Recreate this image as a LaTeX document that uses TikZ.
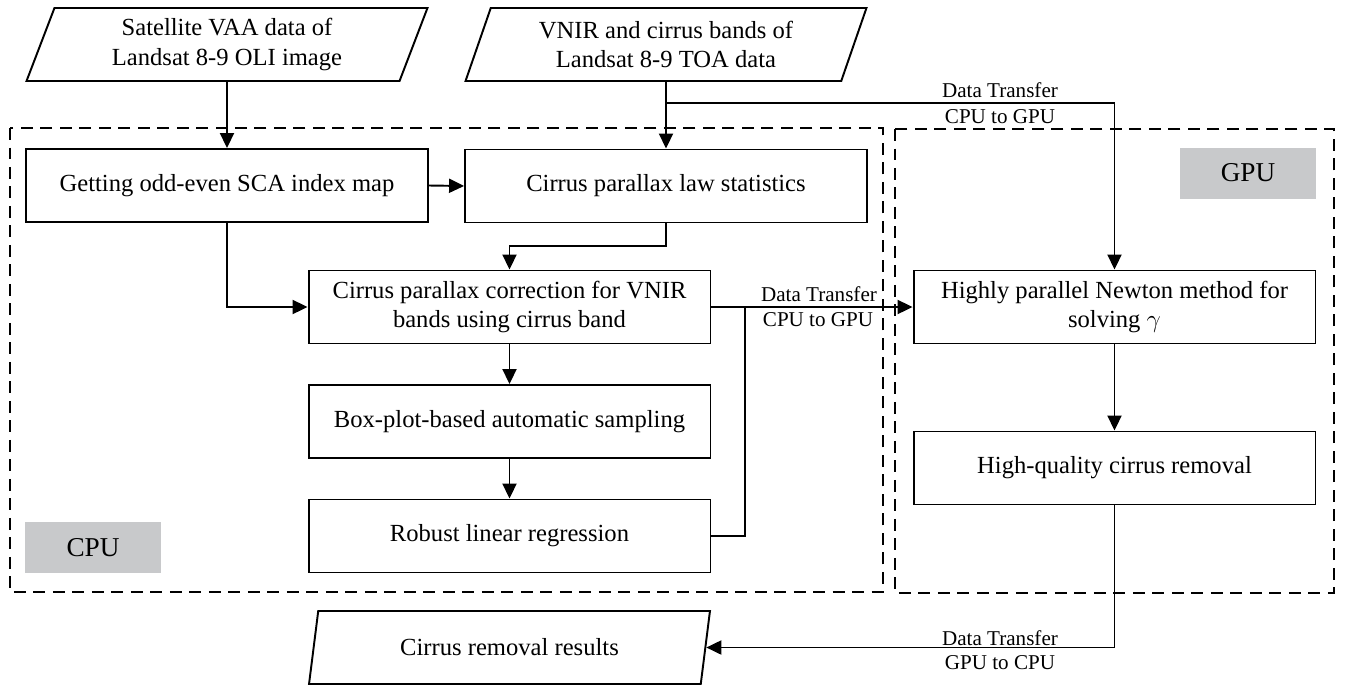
\documentclass[tikz,border=0pt]{standalone}
\usepackage{fontspec}
\setmainfont{Liberation Serif}
\usepackage{tikz}
\usepackage{xcolor}
\usetikzlibrary{positioning,shapes.geometric,arrows.meta}
\definecolor{labelgray}{RGB}{200,201,203}

\begin{document}
\begin{tikzpicture}[x=0.02cm,y=-0.02cm,line width=1.1pt,>={Triangle[length=3mm,width=2.8mm]}]
\useasboundingbox (0,0) rectangle (1346,687);
\tikzstyle{every node}=[font=\fontsize{14}{17}\selectfont,align=center,inner sep=0pt];
\tikzstyle{proc}=[draw,rectangle,minimum width=8.04cm,minimum height=1.46cm];
\tikzstyle{data}=[draw,trapezium,trapezium left angle=62,trapezium right angle=118,trapezium stretches body,minimum width=8.02cm,minimum height=1.46cm];
\tikzstyle{unit}=[fill=labelgray,minimum width=2.72cm,minimum height=1.02cm,font=\fontsize{15.5}{17}\selectfont];
\tikzstyle{frame}=[dash pattern=on 2.4mm off 1.5mm];
\tikzstyle{transfer}=[font=\fontsize{12}{12}\selectfont];

% CPU / GPU frames
\draw[frame] (10,128) rectangle (883,592);
\draw[frame] (895,129) rectangle (1334,593);
\node[unit] (cpu) at (93,547.5) {CPU};
\node[unit] (gpu) at (1248,173) {GPU};

\node[data] (vaa) at (227,44.5) {Satellite VAA data of\\Landsat 8-9 OLI image};
\node[data] (toa) at (666,44.5) {VNIR and cirrus bands of\\Landsat 8-9 TOA data};
\node[proc] (sca) at (227,185.5) {Getting odd-even SCA index map};
\node[proc] (law) at (666,186) {Cirrus parallax law statistics};
\node[proc] (corr) at (509.5,307) {Cirrus parallax correction for VNIR\\bands using cirrus band};
\node[proc] (boxplot) at (509.5,421.5) {Box-plot-based automatic sampling};
\node[proc] (reg) at (509.5,536) {Robust linear regression};
\node[proc] (newton) at (1114.5,307) {Highly parallel Newton method for\\solving $\gamma$};
\node[proc] (hq) at (1114.5,468) {High-quality cirrus removal};
\node[data] (out) at (509.5,647.5) {Cirrus removal results};

\node[transfer] (up1) at (1000,90) {Data Transfer};
\node[transfer] (dn1) at (1000,117) {CPU to GPU};
\node[transfer] (up2) at (819,294) {Data Transfer};
\node[transfer] (dn2) at (818,320) {CPU to GPU};
\node[transfer] (up3) at (1000,638) {Data Transfer};
\node[transfer] (dn3) at (1000,663) {GPU to CPU};

\coordinate (split) at (666,103);
\coordinate (join) at (745,307);

\draw[->] (vaa.south) -- (sca.north);
\draw[->] (toa.south) -- (law.north);
\draw[->] (split) -| (newton.north);
\draw[->] (sca.east) -- (law.west);
\draw[->] (sca.south) |- (corr.west);
\draw[->] (law.south) -- ++(0,23) -| (corr.north);
\draw[->] (corr.east) -- (newton.west);
\draw (reg.east) -| (join);
\draw[->] (corr.south) -- (boxplot.north);
\draw[->] (boxplot.south) -- (reg.north);
\draw[->] (newton.south) -- (hq.north);
\draw[->] (hq.south) |- (out.east);
\end{tikzpicture}
\end{document}
